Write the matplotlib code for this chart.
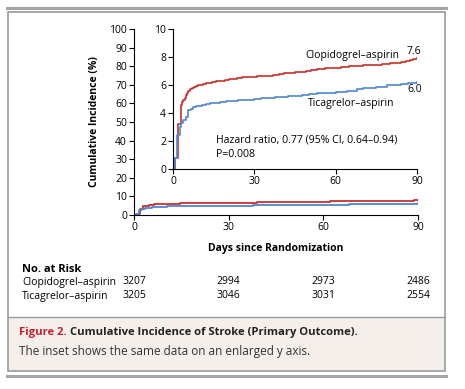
import matplotlib
matplotlib.use("Agg")
import matplotlib.pyplot as plt
from matplotlib.patches import Rectangle
from matplotlib.lines import Line2D
from matplotlib.transforms import blended_transform_factory

plt.rcParams['font.family'] = ['Open Sans', 'DejaVu Sans']

# step curves (days, cumulative incidence %)
clop_days = [0, 0.8, 1.8, 2.0, 2.8, 3.3, 3.8, 4.3, 4.7, 5.1, 5.5, 6.2, 6.9, 7.6, 8.4, 9.3, 10.2,
             11.2, 12.2, 13.2, 14.5, 16, 17.5, 19.2, 20.5, 22, 23.5, 25.3, 26.5, 28, 31, 34, 37,
             39, 41, 43, 45, 47, 49, 51, 53, 56, 59, 62, 65, 67, 70, 74, 77, 80, 82, 84, 86,
             87.5, 88.6, 90]
clop_vals = [0, 0.8, 2.5, 3.2, 4.6, 4.75, 4.95, 5.1, 5.25, 5.4, 5.6, 5.68, 5.78, 5.85, 5.92, 5.98,
             6.03, 6.08, 6.13, 6.17, 6.21, 6.26, 6.31, 6.36, 6.4, 6.44, 6.49, 6.55, 6.58, 6.6,
             6.62, 6.66, 6.72, 6.78, 6.83, 6.88, 6.92, 6.96, 7.01, 7.07, 7.12, 7.18, 7.24, 7.3,
             7.34, 7.38, 7.42, 7.46, 7.5, 7.55, 7.6, 7.66, 7.72, 7.78, 7.86, 7.9]
tica_days = [0, 0.7, 1.6, 2.6, 3.1, 3.6, 4.7, 5.6, 6.5, 7.5, 8.5, 9.5, 10.6, 12, 13.5, 15.5, 17.5,
             19.5, 21.6, 24, 27, 30, 32.5, 35, 37.6, 40, 42.5, 45, 47.5, 50, 53, 56, 60, 64,
             66.5, 68, 70, 72, 75, 78.8, 81, 84, 86.5, 88.5, 90]
tica_vals = [0, 0.76, 2.43, 3.02, 3.3, 3.5, 3.74, 4.2, 4.3, 4.4, 4.47, 4.52, 4.57, 4.62, 4.68, 4.74,
             4.79, 4.84, 4.88, 4.92, 4.96, 5.0, 5.04, 5.08, 5.12, 5.15, 5.19, 5.21, 5.27, 5.35,
             5.42, 5.46, 5.5, 5.55, 5.6, 5.68, 5.76, 5.8, 5.86, 5.98, 6.03, 6.08, 6.12, 6.17, 6.19]

risk_days = [0, 30, 60, 90]
risk_clop = [3207, 2994, 2973, 2486]
risk_tica = [3205, 3046, 3031, 2554]

red = '#c8312a'
blue = '#4f86d2'
grey = '#9a9a9a'
W, H = 465, 389

fig = plt.figure(figsize=(4.65, 3.89), dpi=100)

def fx(px):
    return px / W

def fy(py):
    return 1 - py / H

# frame and caption box
fig.add_artist(Rectangle((fx(8), fy(371)), fx(445) - fx(8), fy(317) - fy(371),
                         transform=fig.transFigure, facecolor='#f4efeb', edgecolor='none', zorder=0))
fig.add_artist(Rectangle((fx(8), fy(371)), fx(445) - fx(8), fy(12) - fy(371),
                         transform=fig.transFigure, facecolor='none', edgecolor=grey, lw=1.2, zorder=1))
fig.add_artist(Line2D([fx(8), fx(445)], [fy(317), fy(317)], transform=fig.transFigure, color=grey, lw=1.0))
fig.add_artist(Line2D([fx(7), fx(446)], [fy(7.5), fy(7.5)], transform=fig.transFigure, color='#a5a5a5', lw=2.2))
fig.add_artist(Line2D([fx(7), fx(446)], [fy(376), fy(376)], transform=fig.transFigure, color='#a5a5a5', lw=2.2))

tick_kw = dict(labelsize=7.5, length=3.5, width=0.8, direction='out', pad=1.5)

# main axes
ax = fig.add_axes([fx(134), fy(215), fx(418) - fx(134), fy(29) - fy(215)])
ax.step(clop_days, clop_vals, where='post', color=red, lw=1.3)
ax.step(tica_days, tica_vals, where='post', color=blue, lw=1.3)
ax.set_xlim(0, 90)
ax.set_ylim(0, 100)
ax.set_xticks([0, 30, 60, 90])
ax.set_yticks(range(0, 101, 10))
ax.spines['top'].set_visible(False)
ax.spines['right'].set_visible(False)
ax.tick_params(**tick_kw)
ax.set_xlabel('Days since Randomization', fontsize=7.5, fontweight='bold', labelpad=7)
ax.set_ylabel('Cumulative Incidence (%)', fontsize=7.5, fontweight='bold', labelpad=7)
ax.patch.set_alpha(0)

# inset
ins = fig.add_axes([fx(173), fy(169), fx(417) - fx(173), fy(29) - fy(169)])
ins.step(clop_days, clop_vals, where='post', color=red, lw=1.2)
ins.step(tica_days, tica_vals, where='post', color=blue, lw=1.2)
ins.set_xlim(0, 90)
ins.set_ylim(0, 10)
ins.set_xticks([0, 30, 60, 90])
ins.set_yticks(range(0, 11, 2))
ins.spines['top'].set_visible(False)
ins.spines['right'].set_visible(False)
ins.tick_params(**tick_kw)
ins.patch.set_alpha(0)
ins.text(83.5, 8.1, 'Clopidogrel\u2013aspirin', fontsize=7.5, ha='right', va='center')
ins.text(89, 8.4, '7.6', fontsize=7.5, ha='center', va='center')
ins.text(89, 5.7, '6.0', fontsize=7.5, ha='center', va='center')
ins.text(81.5, 4.7, 'Ticagrelor\u2013aspirin', fontsize=7.5, ha='right', va='center')
ins.text(16, 2.05, 'Hazard ratio, 0.77 (95% CI, 0.64\u20130.94)', fontsize=7.6, ha='left', va='center')
ins.text(16, 1.05, 'P=0.008', fontsize=7.6, ha='left', va='center')

# number at risk
fig.text(fx(22), fy(269), 'No. at Risk', fontsize=8, fontweight='bold', va='center')
fig.text(fx(22), fy(282), 'Clopidogrel\u2013aspirin', fontsize=7.5, va='center')
fig.text(fx(22), fy(296), 'Ticagrelor\u2013aspirin', fontsize=7.5, va='center')
tr = blended_transform_factory(ax.transData, fig.transFigure)
for d, a, b in zip(risk_days, risk_clop, risk_tica):
    ax.text(d, fy(282), str(a), transform=tr, fontsize=7.5, ha='center', va='center', clip_on=False)
    ax.text(d, fy(296), str(b), transform=tr, fontsize=7.5, ha='center', va='center', clip_on=False)

# caption
t1 = fig.text(fx(19), fy(333), 'Figure 2. ', fontsize=8.1, fontweight='bold', color='#c8202f', va='center')
fig.canvas.draw()
bb = t1.get_window_extent()
fig.text(bb.x1 / fig.bbox.width, fy(333), 'Cumulative Incidence of Stroke (Primary Outcome).',
         fontsize=8.1, fontweight='bold', color='#222222', va='center')
fig.text(fx(19), fy(352), 'The inset shows the same data on an enlarged y axis.', fontsize=8.5, color='#333333', va='center')

fig.savefig('out.png', dpi=100)
